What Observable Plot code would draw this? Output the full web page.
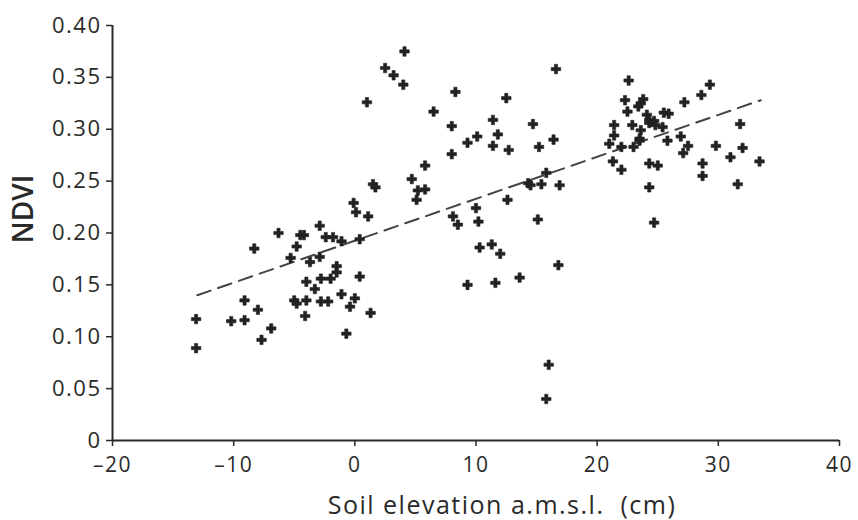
<!DOCTYPE html>
<html>
<head>
<meta charset="utf-8">
<script src="https://cdn.jsdelivr.net/npm/d3@7"></script>
<script src="https://cdn.jsdelivr.net/npm/@observablehq/plot@0.6"></script>
<style>
  html, body { margin: 0; padding: 0; background: #fff; }
  #chart svg { display: block; }
  #chart svg g[aria-label="x-axis tick label"] text,
  #chart svg g[aria-label="y-axis tick label"] text { letter-spacing: 1.5px; }
</style>
</head>
<body>
<div id="chart"></div>
<script>
// Soil elevation (cm) values
const elevation = [
  -13.1, -13.1, -10.2, -9.1, -9.1, -8.0, -7.7, -6.9, -8.3, -6.3,
  -4.8, -5.3, -4.5, -4.2, -2.9, -2.4, -1.8, -1.1, 0.4, -2.9,
  -3.7, -1.5, -1.5, 0.4, -2.8, -2.0, -4.0, -3.3, -5.0, -4.8,
  -4.0, -2.8, -2.2, -1.1, 0.0, -0.4, -4.1, 1.3, -0.7,
  4.1, 2.5, 3.2, 4.0, 8.3, 1.0, 6.5, 8.0, 9.3, 8.0,
  5.8, 4.7, 1.5, 1.7, 5.2, 5.8, 5.1, -0.1, 0.1, 1.1,
  8.1, 8.5, 9.3, 16.6, 12.5, 11.4, 14.7, 11.8, 10.1, 11.4,
  12.7, 15.2, 16.4, 15.8, 14.3, 14.5, 15.4, 16.9, 12.6, 10.0,
  10.2, 15.1, 10.3, 11.3, 12.0, 16.8, 11.6, 13.6, 16.0, 15.8,
  22.6, 29.3, 28.6, 22.3, 23.8, 23.6, 23.4, 27.2, 22.5, 25.5,
  25.9, 24.1, 24.3, 24.7, 24.3, 24.8, 21.4, 21.4, 22.9, 23.6,
  25.4, 31.8, 26.9, 23.5, 23.5, 25.8, 21.0, 22.0, 23.0, 27.5,
  29.8, 32.0, 27.1, 31.0, 21.3, 22.0, 24.3, 25.0, 28.7, 28.7,
  31.6, 24.3, 24.7, 33.4
];
// NDVI values
const ndvi = [
  0.117, 0.089, 0.115, 0.116, 0.135, 0.126, 0.097, 0.108, 0.185, 0.200,
  0.187, 0.176, 0.198, 0.198, 0.207, 0.196, 0.196, 0.192, 0.194, 0.177,
  0.172, 0.168, 0.162, 0.158, 0.156, 0.156, 0.153, 0.146, 0.135, 0.132,
  0.135, 0.134, 0.134, 0.141, 0.137, 0.129, 0.120, 0.123, 0.103,
  0.375, 0.359, 0.352, 0.343, 0.336, 0.326, 0.317, 0.303, 0.287, 0.276,
  0.265, 0.252, 0.247, 0.244, 0.241, 0.242, 0.232, 0.229, 0.220, 0.216,
  0.216, 0.208, 0.150, 0.358, 0.330, 0.309, 0.305, 0.295, 0.293, 0.284,
  0.280, 0.283, 0.290, 0.258, 0.248, 0.246, 0.247, 0.246, 0.232, 0.224,
  0.211, 0.213, 0.186, 0.189, 0.180, 0.169, 0.152, 0.157, 0.073, 0.040,
  0.347, 0.343, 0.333, 0.328, 0.329, 0.325, 0.322, 0.326, 0.317, 0.316,
  0.315, 0.314, 0.309, 0.308, 0.306, 0.304, 0.304, 0.294, 0.304, 0.299,
  0.302, 0.305, 0.293, 0.291, 0.289, 0.289, 0.286, 0.283, 0.283, 0.284,
  0.284, 0.282, 0.277, 0.273, 0.269, 0.261, 0.267, 0.265, 0.267, 0.255,
  0.247, 0.244, 0.210, 0.269
];
// Linear fit drawn as a dashed line (end points)
const fitX = [-13, 33.5];
const fitY = [0.140, 0.328];

const xTicks = [-20, -10, 0, 10, 20, 30, 40];
const yTicks = [0, 0.05, 0.10, 0.15, 0.20, 0.25, 0.30, 0.35, 0.40];
const xTitle = "Soil elevation a.m.s.l.  (cm)";
const yTitle = "NDVI";

const points = elevation.map((e, i) => ({x: e, y: ndvi[i]}));
const fit = fitX.map((x, i) => ({x, y: fitY[i]}));

const font = "'Open Sans', 'Liberation Sans', sans-serif";
const ink = "#2a2a2a";

const chart = Plot.plot({
  width: 858,
  height: 520,
  marginLeft: 112,
  marginRight: 19,
  marginTop: 25,
  marginBottom: 80,
  style: {fontFamily: font, color: ink, background: "#fff"},
  x: {domain: [-20, 40]},
  y: {domain: [0, 0.4]},
  marks: [
    Plot.axisX({ticks: xTicks, tickSize: 6, tickPadding: 11, fontSize: 21, label: null,
      tickFormat: d => d < 0 ? "\u2013" + Math.abs(d) : String(d), stroke: ink, strokeWidth: 1.5}),
    Plot.axisY({ticks: yTicks, tickSize: 6, tickPadding: 5, fontSize: 22, label: null,
      tickFormat: d => d === 0 ? "0" : d.toFixed(2), stroke: ink, strokeWidth: 1.5}),
    Plot.ruleY([0], {stroke: ink, strokeWidth: 2}),
    Plot.ruleX([-20], {stroke: ink, strokeWidth: 2}),
    Plot.line(fit, {x: "x", y: "y", stroke: "#444", strokeWidth: 2, strokeDasharray: "14,8"}),
    Plot.dot(points, {x: "x", y: "y", symbol: "cross", r: 4, fill: "#222", stroke: "#222", strokeWidth: 0.6}),
    Plot.text([xTitle], {text: d => d, frameAnchor: "bottom", lineAnchor: "bottom", dx: 26, dy: 73, fontSize: 25, fill: ink}),
    Plot.text([yTitle], {text: d => d, frameAnchor: "left", textAnchor: "middle", dx: -88, dy: -24, rotate: -90, fontSize: 28, fontWeight: 600, fill: ink})
  ]
});
document.getElementById("chart").appendChild(chart);
// loosen title letter spacing a touch, as in the reference
d3.select(chart).selectAll("text").filter(function() { return this.textContent === xTitle; })
  .style("letter-spacing", "1.5px");
</script>
</body>
</html>
